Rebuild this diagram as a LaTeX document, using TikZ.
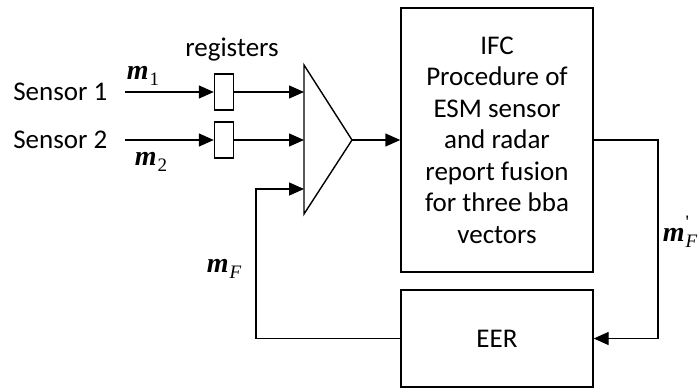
\documentclass[tikz,border=0pt]{standalone}
\usepackage{fontspec}
\setmainfont{Carlito}
\newfontfamily\timesfont{Liberation Serif}
\usetikzlibrary{arrows.meta}
% bold m with a subscript and an optional mark above it
\newcommand{\mlab}[2][]{{\timesfont\bfseries\itshape m}\kern1pt\rlap{\raisebox{13pt}{\fontsize{19}{19}\timesfont #1}}\raisebox{-6pt}{\fontsize{19}{19}\timesfont #2}}

\begin{document}
\begin{tikzpicture}[x=1pt,y=-1pt,line width=1.4pt,
  arr/.style={-{Triangle[length=15pt,width=13pt]}},
  blockbox/.style={draw,inner sep=0pt,align=center,font=\fontsize{27}{31.5}\selectfont},
  regbox/.style={draw,inner sep=0pt,minimum width=19pt,minimum height=36pt},
  lbl/.style={inner sep=0pt,font=\fontsize{27}{31.5}\selectfont},
  mlbl/.style={inner sep=0pt,font=\fontsize{28}{30}\selectfont}]
\useasboundingbox (0,0) rectangle (698,388);
% sensors and registers
\node[lbl,anchor=east] (sen1) at (108,92) {Sensor 1};
\node[lbl,anchor=east] (sen2) at (108,140) {Sensor 2};
\node[regbox] (reg1) at (224,92) {};
\node[regbox] (reg2) at (224,140) {};
\node[lbl] (regtxt) at (232,50) {registers};
\node[mlbl] (m1) at (143,76) {\mlab{1}};
\node[mlbl] (m2) at (151,162) {\mlab{2}};
% combiner
\draw (304,65) -- (352,140) -- (304,214) -- cycle;
\coordinate (in1) at (304,92);
\coordinate (in2) at (304,140);
\coordinate (in3) at (304,189);
\coordinate (apex) at (352,140);
% blocks
\node[blockbox,minimum width=192pt,minimum height=264pt] (ifc) at (497,140)
  {IFC\\Procedure of\\ESM sensor\\and radar\\report fusion\\for three bba\\vectors};
\node[blockbox,minimum width=192pt,minimum height=97pt] (eer) at (497,338.5) {EER};
\coordinate (turnR) at (658,140);
\coordinate (turnL) at (256,189);
\node[mlbl] (mFp) at (680,232) {\mlab[\textquotesingle]{\itshape F}};
\node[mlbl] (mF) at (224,269) {\mlab{\itshape F}};
% connectors
\draw[arr] ([xshift=17pt]sen1.east) -- (reg1.west);
\draw[arr] ([xshift=17pt]sen2.east) -- (reg2.west);
\draw[arr] (reg1.east) -- (in1);
\draw[arr] (reg2.east) -- (in2);
\draw[arr] (apex) -- (ifc.west);
\draw[arr] (ifc.east) -- (turnR) |- (eer.east);
\draw[arr] (eer.west) -| (turnL) -- (in3);
\end{tikzpicture}
\end{document}
